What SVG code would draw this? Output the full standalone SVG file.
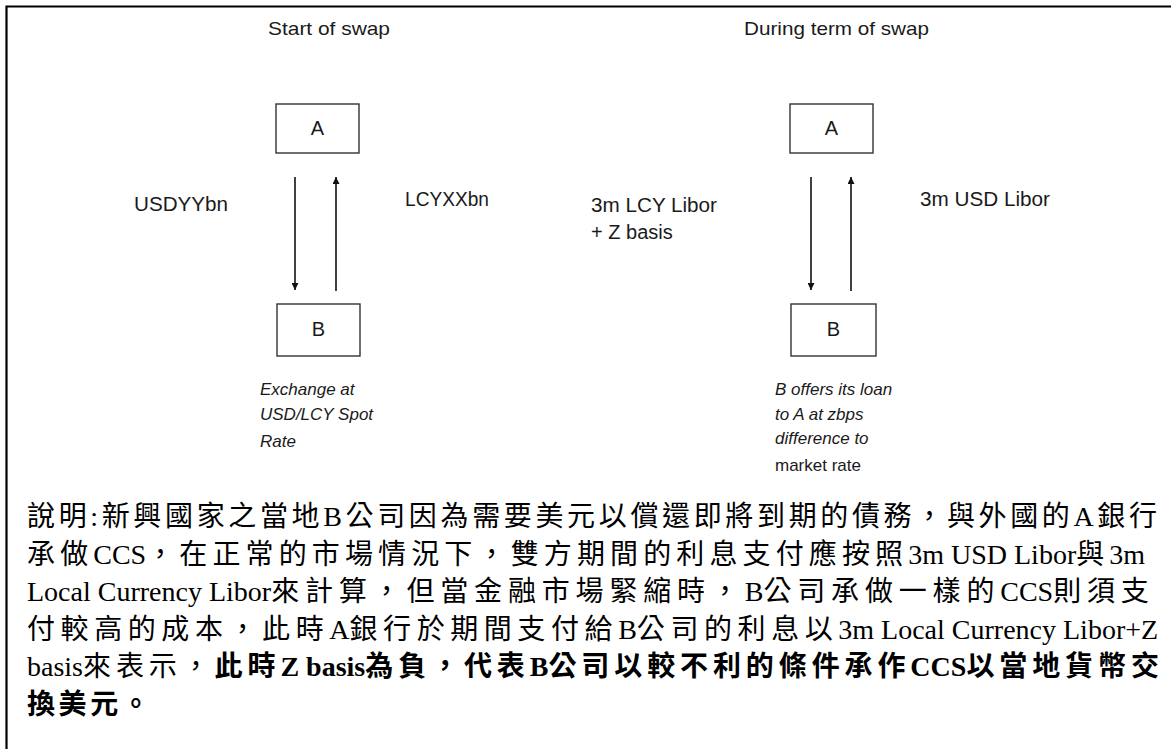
<svg xmlns="http://www.w3.org/2000/svg" width="1171" height="749" viewBox="0 0 1171 749">
<style>
.t{font-family:"Liberation Sans",Arial,sans-serif;fill:#1a1a1a}
.ttl{font-size:19px}
.lbl{font-size:20px}
.box{fill:#fff;stroke:#333;stroke-width:1.4}
.it{font-size:17px;font-style:italic}
.nm{font-size:17px}
.ar{stroke:#111;stroke-width:1.6;fill:none;marker-end:url(#ah)}
.zh{font-family:"Liberation Serif","Noto Sans CJK TC",serif;font-size:28px;fill:#000}
.b{font-weight:bold}
.frame{stroke:#000;stroke-width:2.2;fill:none}
</style>
<defs>
<marker id="ah" viewBox="0 0 10 10" refX="10" refY="5" markerWidth="8" markerHeight="7" orient="auto" markerUnits="userSpaceOnUse">
<path d="M0,0 L10,5 L0,10 z" fill="#111"/>
</marker>
</defs>
<g id="frame">
<path class="frame" d="M1171,6.5 H6.5 V749"/>
</g>
<g id="titles">
<text class="t ttl" x="268" y="35" textLength="122" lengthAdjust="spacingAndGlyphs">Start of swap</text>
<text class="t ttl" x="744" y="35" textLength="185" lengthAdjust="spacingAndGlyphs">During term of swap</text>
</g>
<g id="nodeA1">
<rect class="box" x="276" y="104" width="83" height="49"/>
<text class="t lbl" x="317.5" y="135" text-anchor="middle">A</text>
</g>
<g id="nodeB1">
<rect class="box" x="277" y="304" width="83" height="52"/>
<text class="t lbl" x="318.5" y="336" text-anchor="middle">B</text>
</g>
<g id="nodeA2">
<rect class="box" x="790" y="104" width="83" height="49"/>
<text class="t lbl" x="831.5" y="135" text-anchor="middle">A</text>
</g>
<g id="nodeB2">
<rect class="box" x="791" y="304" width="85" height="52"/>
<text class="t lbl" x="833.5" y="336" text-anchor="middle">B</text>
</g>
<g id="connectors">
<line class="ar" x1="295" y1="177" x2="295" y2="290"/>
<line class="ar" x1="336" y1="291" x2="336" y2="177"/>
<line class="ar" x1="811" y1="177" x2="811" y2="290"/>
<line class="ar" x1="851" y1="291" x2="851" y2="177"/>
</g>
<g id="labels">
<text class="t lbl" x="134" y="211" textLength="94" lengthAdjust="spacingAndGlyphs">USDYYbn</text>
<text class="t lbl" x="405" y="206" textLength="84" lengthAdjust="spacingAndGlyphs">LCYXXbn</text>
<text class="t lbl" x="591" y="212" textLength="126" lengthAdjust="spacingAndGlyphs">3m LCY Libor</text>
<text class="t lbl" x="591" y="239">+ Z basis</text>
<text class="t lbl" x="920" y="206" textLength="130" lengthAdjust="spacingAndGlyphs">3m USD Libor</text>
<text class="t it" x="260" y="395">Exchange at</text>
<text class="t it" x="260" y="420">USD/LCY Spot</text>
<text class="t it" x="260" y="447">Rate</text>
<text class="t it" x="775" y="395">B offers its loan</text>
<text class="t it" x="775" y="420">to A at zbps</text>
<text class="t it" x="775" y="444">difference to</text>
<text class="t nm" x="775" y="471">market rate</text>
</g>
<g id="note">
<text class="zh" x="27" y="526" textLength="1130" lengthAdjust="spacing">說明:新興國家之當地B公司因為需要美元以償還即將到期的債務，與外國的A銀行</text>
<text class="zh" x="27" y="563.5"><tspan letter-spacing="5.13">承做</tspan>CCS<tspan letter-spacing="5.13">，在正常的市場情況下，雙方期間的利息支付應按照</tspan>3m USD Libor<tspan letter-spacing="5.13">與</tspan>3m</text>
<text class="zh" x="27" y="601">Local Currency Libor<tspan letter-spacing="5.83">來計算，但當金融市場緊縮時，</tspan>B<tspan letter-spacing="5.83">公司承做一樣的</tspan>CCS<tspan letter-spacing="5.83">則須支</tspan></text>
<text class="zh" x="27" y="638.5"><tspan letter-spacing="5.58">付較高的成本，此時</tspan>A<tspan letter-spacing="5.58">銀行於期間支付給</tspan>B<tspan letter-spacing="5.58">公司的利息以</tspan>3m Local Currency Libor+Z</text>
<text class="zh" x="27" y="676">basis<tspan letter-spacing="4.9">來表示，</tspan><tspan class="b" letter-spacing="4.9">此時</tspan><tspan class="b">Z basis</tspan><tspan class="b" letter-spacing="4.9">為負，代表</tspan><tspan class="b">B</tspan><tspan class="b" letter-spacing="4.9">公司以較不利的條件承作</tspan><tspan class="b">CCS</tspan><tspan class="b" letter-spacing="4.9">以當地貨幣交</tspan></text>
<text class="zh b" x="27" y="713.5" letter-spacing="3.6">換美元。</text>
</g>
</svg>
